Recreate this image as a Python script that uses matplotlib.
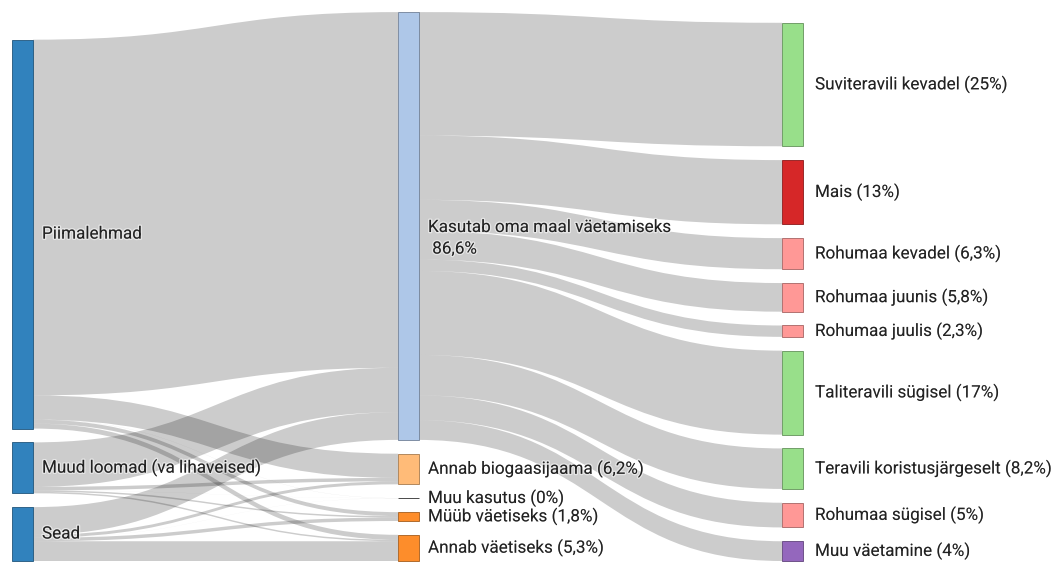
import matplotlib
matplotlib.use('Agg')
import matplotlib.pyplot as plt
from matplotlib.path import Path
from matplotlib.patches import PathPatch, Rectangle
import matplotlib.patheffects as pe

# ---------------- data ----------------
source_labels = ['Piimalehmad', 'Muud loomad (va lihaveised)', 'Sead']
use_labels = ['Kasutab oma maal väetamiseks\n 86,6%', 'Annab biogaasijaama (6,2%)',
              'Muu kasutus (0%)', 'Müüb väetiseks (1,8%)', 'Annab väetiseks (5,3%)']
crop_labels = ['Suviteravili kevadel (25%)', 'Mais (13%)', 'Rohumaa kevadel (6,3%)',
               'Rohumaa juunis (5,8%)', 'Rohumaa juulis (2,3%)', 'Taliteravili sügisel (17%)',
               'Teravili koristusjärgeselt (8,2%)', 'Rohumaa sügisel (5%)', 'Muu väetamine (4%)']

# flows (share of manure, %) from each animal group to each use (order of use_labels)
piimalehmad_flows = [72.0, 4.9, 0.02, 0.8, 1.0]
muud_loomad_flows = [9.0, 0.7, 0.01, 0.3, 0.3]
sead_flows = [5.6, 0.6, 0.01, 0.7, 4.0]
# flows from "Kasutab oma maal väetamiseks" to crops (order of crop_labels)
crop_values = [25, 13, 6.3, 5.8, 2.3, 17, 8.2, 5, 4]

source_colors = ['#3182bd', '#3182bd', '#3182bd']
use_colors = ['#aec7e8', '#ffbb78', '#444444', '#fd8d2b', '#fd8d2b']
crop_colors = ['#98df8a', '#d62728', '#ff9896', '#ff9896', '#ff9896', '#98df8a',
               '#98df8a', '#ff9896', '#9467bd']

# ---------------- layout ----------------
W, H = 1056, 563
fig = plt.figure(figsize=(W / 100, H / 100), dpi=100)
ax = fig.add_axes([0, 0, 1, 1])
ax.set_xlim(0, W)
ax.set_ylim(H, 0)
ax.axis('off')

scale = 4.94      # px per percent
pad = 13.8
bottom = 561
col_x = [12, 398, 782]
node_w = 21

flows = [piimalehmad_flows, muud_loomad_flows, sead_flows]
src_vals = [sum(f) for f in flows]
use_vals = [sum(f[j] for f in flows) for j in range(len(use_labels))]


def stack(values):
    hs = [v * scale for v in values]
    total = sum(hs) + pad * (len(hs) - 1)
    y = bottom - total
    pos = []
    for h in hs:
        pos.append((y, y + h))
        y += h + pad
    return pos


src_pos = stack(src_vals)
use_pos = stack(use_vals)
crop_pos = stack(crop_values)


def link(x0, s0, s1, x1, t0, t1):
    xm = (x0 + x1) / 2
    verts = [(x0, s0), (xm, s0), (xm, t0), (x1, t0), (x1, t1),
             (xm, t1), (xm, s1), (x0, s1), (x0, s0)]
    codes = [Path.MOVETO, Path.CURVE4, Path.CURVE4, Path.CURVE4, Path.LINETO,
             Path.CURVE4, Path.CURVE4, Path.CURVE4, Path.CLOSEPOLY]
    ax.add_patch(PathPatch(Path(verts, codes), facecolor=(0, 0, 0, 0.2),
                           edgecolor='none', lw=0, zorder=1))


# links: animal groups -> uses (source side ordered by target, target side by source)
src_off = {}
c = [p[0] for p in src_pos]
for i, f in enumerate(flows):
    for j, v in enumerate(f):
        src_off[(i, j)] = (c[i], c[i] + v * scale)
        c[i] += v * scale
tgt_off = {}
c = [p[0] for p in use_pos]
for j in range(len(use_labels)):
    for i, f in enumerate(flows):
        v = f[j]
        tgt_off[(i, j)] = (c[j], c[j] + v * scale)
        c[j] += v * scale
for i, f in enumerate(flows):
    for j, v in enumerate(f):
        s0, s1 = src_off[(i, j)]
        t0, t1 = tgt_off[(i, j)]
        link(col_x[0] + node_w, s0, s1, col_x[1], t0, t1)

# links: Kasutab -> crops
y = use_pos[0][0]
for k, v in enumerate(crop_values):
    h = v * scale
    link(col_x[1] + node_w - 1, y, y + h, col_x[2], crop_pos[k][0], crop_pos[k][1])
    y += h


def darker(col, f=0.65):
    r, g, b = matplotlib.colors.to_rgb(col)
    return (r * f, g * f, b * f)


def nodes(x, pos, colors):
    for (y0, y1), colr in zip(pos, colors):
        ax.add_patch(Rectangle((x, y0), node_w, max(y1 - y0, 0.3), facecolor=colr,
                               edgecolor=darker(colr), lw=0.6, zorder=3))


nodes(col_x[0], src_pos, source_colors)
nodes(col_x[1], use_pos, use_colors)
nodes(col_x[2], crop_pos, crop_colors)

plt.rcParams['font.family'] = ['Roboto', 'DejaVu Sans']
txt_kw = dict(fontsize=12.3, color='#222222', zorder=5,
              path_effects=[pe.withStroke(linewidth=2, foreground=(1, 1, 1, 0.5))])


def labels(x, pos, labs):
    for (y0, y1), lab in zip(pos, labs):
        yc = (y0 + y1) / 2
        if '\n' in lab:
            ax.text(x, yc - 6, lab, ha='left', va='top', linespacing=1.55, **txt_kw)
        else:
            ax.text(x, yc, lab, ha='left', va='center', **txt_kw)


labels(col_x[0] + node_w + 9, src_pos, source_labels)
labels(col_x[1] + node_w + 9, use_pos, use_labels)
labels(col_x[2] + node_w + 12, crop_pos, crop_labels)

fig.savefig('out.png', dpi=100, facecolor='white')
